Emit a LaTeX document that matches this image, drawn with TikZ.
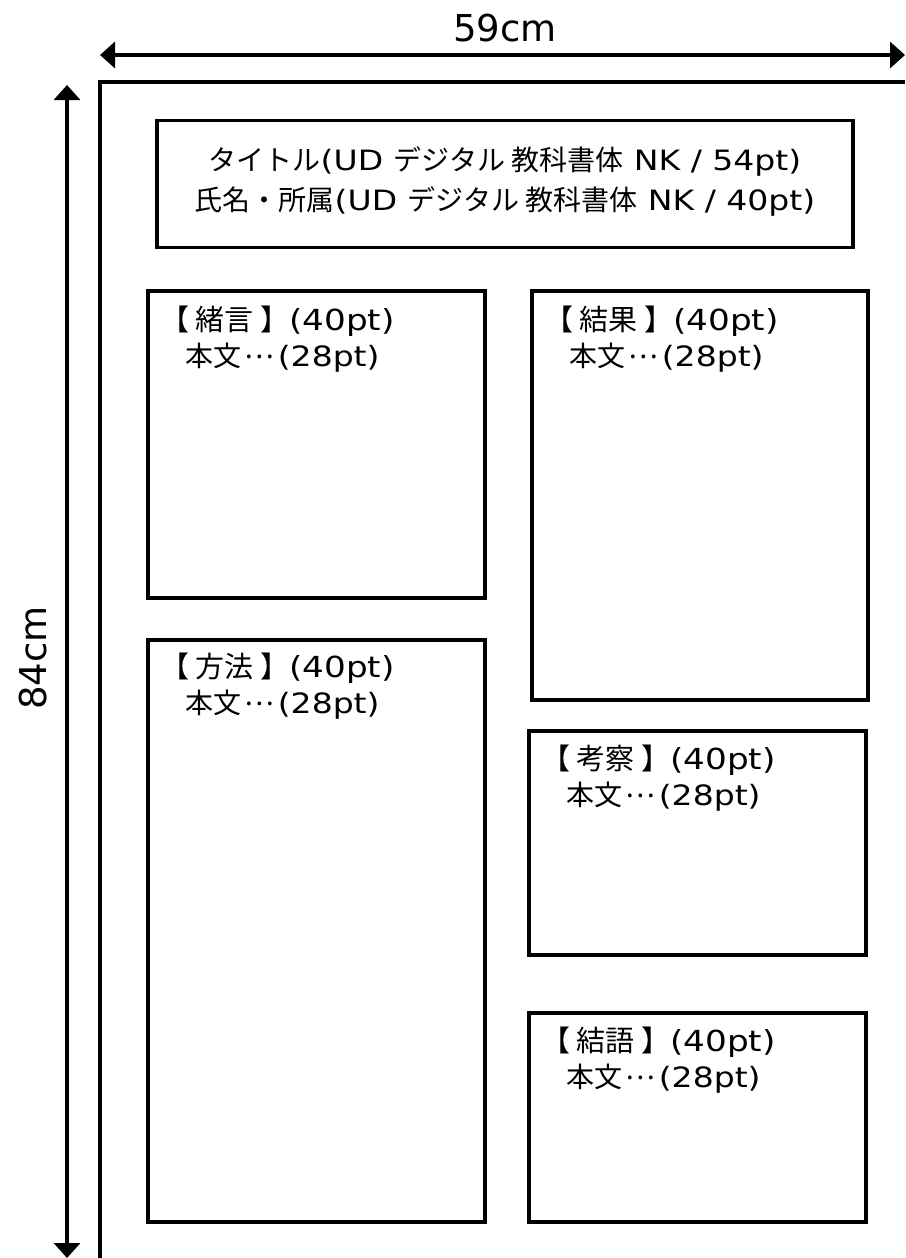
\documentclass[tikz,border=0pt]{standalone}
\usepackage{fontspec}
\setmainfont{Noto Sans CJK JP}
\newfontfamily\latn{DejaVu Sans}[FakeStretch=1.18]
\newfontfamily\dimfont{DejaVu Sans}
\newcommand{\middots}{\hspace{0.1em}\raisebox{0.3em}{…}\hspace{0.15em}}
\usetikzlibrary{arrows.meta}

\begin{document}
\begin{tikzpicture}[x=1pt,y=-1pt,
    frame/.style={draw,line width=3.8pt,inner sep=0pt},
    dim/.style={line width=3.5pt,{Triangle[length=15pt,width=26pt]}-{Triangle[length=15pt,width=26pt]}},
    head/.style={anchor=west,font=\fontsize{29}{34}\selectfont,inner sep=0pt},
    body/.style={anchor=west,font=\fontsize{28}{34}\selectfont,inner sep=0pt}]
      \useasboundingbox (0,0) rectangle (905,1258);

      % sheet size
      \coordinate (wl) at (100,55);
      \coordinate (wr) at (905,55);
      \coordinate (ht) at (67,85);
      \coordinate (hb) at (67,1258);
      \draw[dim] (wl) -- (wr);
      \draw[dim] (ht) -- (hb);
      \node[font=\dimfont\fontsize{37}{40}\selectfont] (width) at (505,28) {59cm};
      \node[font=\dimfont\fontsize{37}{40}\selectfont,rotate=90] (height) at (33,658) {84cm};

      % sheet edge
      \coordinate (pt) at (905,82);
      \coordinate (pc) at (100,82);
      \coordinate (pb) at (100,1258);
      \draw[line width=3.2pt] (pt) -- (pc) -- (pb);

      % title
      \node[frame,minimum width=696pt,minimum height=127pt] (title) at (505,184) {};
      \node[font=\fontsize{28}{40}\selectfont,align=center] (titletext) at (505,181)
        {タイトル{\latn(UD }デジタル 教科書体{\latn\ NK / 54pt)}\\
         氏名・所属{\latn(UD }デジタル 教科書体{\latn\ NK / 40pt)}};

      % sections
      \node[frame,minimum width=337pt,minimum height=307pt] (intro) at (316.5,444.5) {};
      \node[frame,minimum width=336pt,minimum height=409pt] (result) at (700,495.5) {};
      \node[frame,minimum width=337pt,minimum height=582pt] (method) at (316.5,931) {};
      \node[frame,minimum width=337pt,minimum height=224pt] (discuss) at (697.5,843) {};
      \node[frame,minimum width=337pt,minimum height=209pt] (concl) at (697.5,1117.5) {};

      \node[head] (introh) at (160,321) {【 緒言 】{\latn(40pt)}};
      \node[body] (introb) at (185,358) {本文\middots{\latn(28pt)}};
      \node[head] (resulth) at (544,321) {【 結果 】{\latn(40pt)}};
      \node[body] (resultb) at (569,358) {本文\middots{\latn(28pt)}};
      \node[head] (methodh) at (160,668) {【 方法 】{\latn(40pt)}};
      \node[body] (methodb) at (185,705) {本文\middots{\latn(28pt)}};
      \node[head] (discussh) at (541,760) {【 考察 】{\latn(40pt)}};
      \node[body] (discussb) at (566,797) {本文\middots{\latn(28pt)}};
      \node[head] (conclh) at (541,1042) {【 結語 】{\latn(40pt)}};
      \node[body] (conclb) at (566,1079) {本文\middots{\latn(28pt)}};
\end{tikzpicture}
\end{document}
